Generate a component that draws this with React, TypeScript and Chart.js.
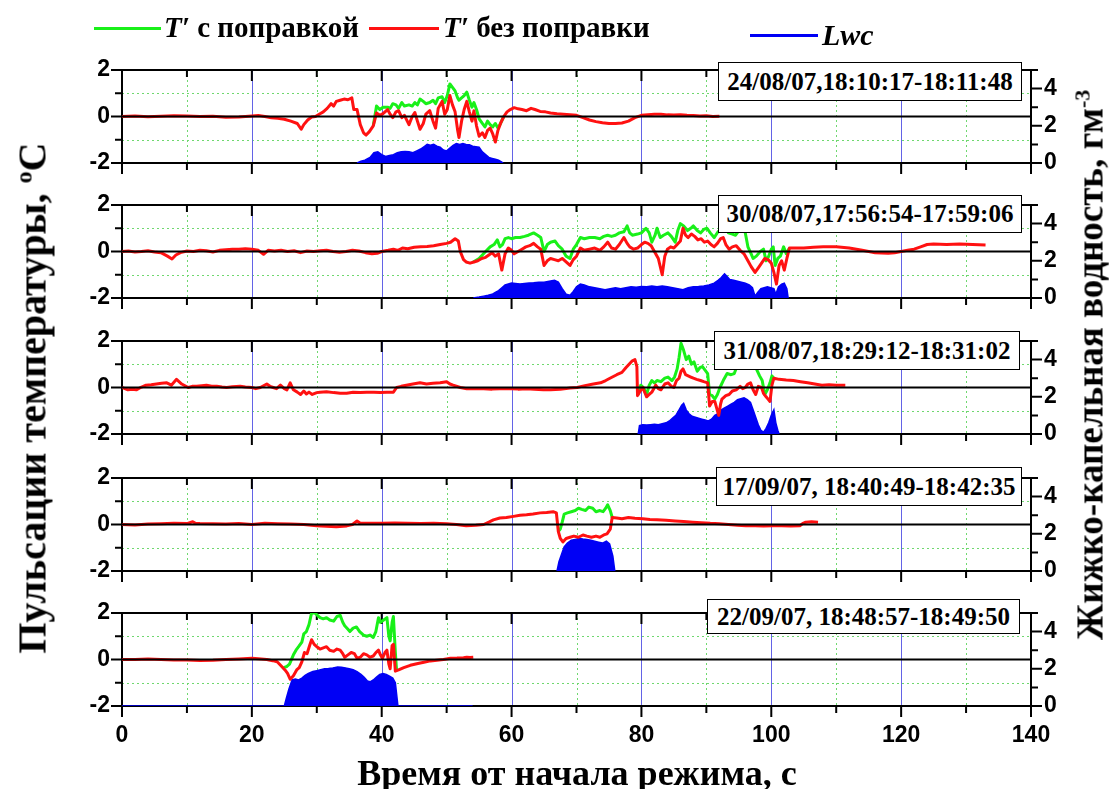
import React, { useEffect, useRef } from 'react';
import { Chart, registerables } from 'chart.js';

Chart.register(...registerables);

// ---- axis values ----
const xMajor = [0, 20, 40, 60, 80, 100, 120, 140];
const xMinor = [10, 30, 50, 70, 90, 110, 130];
const xGridBlue = [20, 40, 60, 80, 100, 120];
const yMajor = [-2, 0, 2];
const yMinor = [-1, 1];
const y2Major = [0, 2, 4];
const y2Minor = [1, 3, 5];

// ---- panel labels ----
const panelLabels = [
  '24/08/07,18:10:17-18:11:48',
  '30/08/07,17:56:54-17:59:06',
  '31/08/07,18:29:12-18:31:02',
  '17/09/07, 18:40:49-18:42:35',
  '22/09/07, 18:48:57-18:49:50',
];

// ---- data: [time s, value] ----
const p1Red = [[0,0],[2,0.02],[4,-0.01],[6,0.01],[8,0.03],[10,0.02],[12,0],[14,0.01],[16,-0.03],[18,-0.02],[20,0.02],[21,0.04],[22,0],[23,-0.05],[24,-0.08],[25,-0.12],[26,-0.2],[27,-0.3],[27.6,-0.55],[28,-0.35],[28.6,-0.15],[29.2,-0.02],[29.8,0],[30.5,0.12],[31,0.2],[31.6,0.35],[32.2,0.55],[32.6,0.45],[33,0.65],[33.6,0.7],[34.2,0.75],[34.8,0.72],[35.4,0.8],[35.7,0.3],[36.2,0.3],[36.7,-0.35],[37.2,-0.7],[37.6,-0.8],[38.1,-0.65],[38.7,-0.4],[39.2,0.15],[39.7,0.05],[40.2,0.12],[40.9,0.3],[41.3,0.1],[41.7,-0.05],[42.2,0.2],[42.6,0.25],[43.1,-0.05],[43.5,0.05],[44.2,-0.35],[44.7,0],[45.1,0.17],[45.5,-0.2],[45.9,-0.55],[46.4,-0.3],[46.8,0.1],[47.4,0.25],[47.9,-0.2],[48.3,-0.5],[48.7,0.35],[49.3,0.65],[49.7,0.1],[50.1,0.3],[50.5,0.9],[50.9,0.5],[51.3,0.2],[51.7,-0.6],[51.9,-0.9],[52.3,-0.2],[52.7,0.3],[53.1,0.65],[53.5,0.2],[53.9,-0.2],[54.2,0.25],[54.6,-0.4],[55,-0.85],[55.5,-0.7],[55.9,-0.9],[56.3,-0.6],[56.7,-0.5],[57.1,-0.75],[57.5,-1.1],[57.9,-0.6],[58.3,-0.3],[58.8,0],[59.3,0.2],[59.8,0.3],[60.4,0.38],[61,0.33],[61.6,0.3],[62.3,0.25],[63,0.35],[63.6,0.3],[64.4,0.22],[65.2,0.2],[66,0.15],[67,0.12],[68,0.1],[69,0.08],[70,0.05],[71,-0.05],[72,-0.15],[73,-0.22],[74,-0.27],[75,-0.3],[76,-0.3],[77,-0.28],[78,-0.2],[79,-0.05],[80,0.05],[81,0.08],[82,0.1],[83,0.1],[84,0.07],[85,0.06],[86,0.08],[87,0.05],[88,0.04],[89,0.02],[90,0.03],[91,0],[92,0.01]];
const p1Green = [[38.7,-0.4],[39.2,0.45],[39.7,0.3],[40.2,0.4],[40.9,0.4],[41.3,0.35],[41.7,0.55],[42.2,0.5],[42.6,0.35],[43.1,0.6],[43.5,0.45],[44.2,0.5],[44.7,0.45],[45.1,0.6],[45.5,0.5],[45.9,0.75],[46.4,0.65],[46.8,0.55],[47.4,0.6],[47.9,0.7],[48.3,0.55],[48.7,0.8],[49.3,0.85],[49.7,0.6],[50.1,0.9],[50.5,1.4],[50.9,1.25],[51.3,1.1],[51.7,0.8],[51.9,0.7],[52.3,0.8],[52.7,0.9],[53.1,1.05],[53.5,0.7],[53.9,0.4],[54.2,0.6],[54.6,0.3],[55,-0.1],[55.5,-0.3],[55.9,-0.45],[56.3,-0.2],[56.7,-0.35],[57.1,-0.45],[57.5,-0.3],[57.9,-0.5],[58.3,-0.3],[58.8,0]];
const p1Lwc = [[36.2,0],[36.8,0.1],[37.4,0.15],[38.2,0.3],[38.8,0.55],[39.4,0.6],[40,0.45],[40.6,0.35],[41.2,0.4],[41.8,0.45],[42.4,0.55],[43,0.6],[43.6,0.62],[44.2,0.6],[44.8,0.55],[45.4,0.65],[46,0.75],[46.6,0.9],[47,1],[47.5,0.95],[48,1],[48.5,0.9],[49,0.85],[49.5,0.7],[50,0.65],[50.5,0.8],[51,0.95],[51.5,1.05],[52,1],[52.5,1.05],[53,1],[53.5,0.98],[54,0.9],[54.5,0.88],[55,0.85],[55.5,0.6],[56,0.45],[56.5,0.3],[57,0.25],[57.5,0.2],[58,0.15],[58.5,0.05],[58.7,0]];

const p2Red = [[0,0],[1,0.02],[2,-0.02],[3,0],[4,0.03],[5,-0.02],[6,-0.05],[7,-0.2],[7.7,-0.32],[8.3,-0.15],[9,-0.05],[10,0.02],[11,0],[12,0.05],[13,0.03],[14,-0.02],[15,0.05],[16,0.08],[17,0.1],[18,0.1],[19,0.12],[20,0.1],[21,0.05],[21.8,-0.12],[22.5,0.05],[23.5,0.02],[24.5,0.05],[25.5,0],[26.5,0.03],[27.5,-0.05],[28.5,0.02],[29.5,0],[30.5,0.03],[31.5,0.05],[32.5,0],[33.5,-0.03],[34.5,0],[35.5,0.05],[36.5,0.02],[37.5,-0.05],[38.5,-0.1],[39.3,-0.08],[40,0],[41,0.05],[41.8,0.1],[42.5,0.05],[43.2,0.15],[44,0.12],[45,0.18],[46,0.2],[47,0.22],[48,0.25],[49,0.3],[50,0.35],[50.6,0.4],[51.3,0.55],[51.8,0.45],[52.1,0],[52.6,-0.35],[53,-0.45],[53.6,-0.5],[54.2,-0.45],[54.8,-0.4],[55.4,-0.3],[56,-0.25],[56.5,-0.15],[57,-0.05],[57.5,-0.2],[58,-0.1],[58.5,-0.8],[59,-0.1],[59.5,0.15],[60,0.05],[60.4,-0.1],[61,0],[61.6,0.1],[62.2,0.2],[62.8,0.25],[63.4,0.35],[64,0.2],[64.5,0.1],[65,-0.6],[65.5,-0.4],[66,-0.3],[66.6,-0.35],[67.2,-0.4],[67.8,-0.3],[68.4,-0.45],[69,-0.6],[69.5,-0.35],[70,-0.2],[70.6,0.15],[71.2,0.05],[72,0.1],[72.8,0.15],[73.6,0.05],[74.2,0.2],[74.8,0.4],[75.4,0.15],[76,0.1],[76.6,0.3],[77.3,0.6],[77.8,0.35],[78.2,0.2],[78.8,0.1],[79.4,0.15],[80,0.3],[80.5,0.4],[81,0.35],[81.5,0.25],[82,0],[82.6,-0.3],[83.2,-1],[83.6,-0.2],[84,0.1],[84.5,0.2],[85,0.15],[85.5,0.3],[86,0.45],[86.4,1],[86.8,0.7],[87.2,0.6],[87.7,0.75],[88.2,0.65],[88.7,0.5],[89.2,0.55],[89.7,0.4],[90.2,0.45],[90.7,0.3],[91.2,0.2],[91.7,0.35],[92.2,0.55],[92.6,0.6],[93,0.3],[93.5,0.1],[94,0.2],[94.6,0.25],[95.2,0.05],[95.8,-0.1],[96.4,-0.4],[96.9,-0.65],[97.5,-0.9],[98,-0.7],[98.5,-0.5],[99,-0.3],[99.5,-0.35],[100,-0.5],[100.4,-0.9],[100.8,-1.4],[101.2,-0.6],[101.6,-0.4],[102,-0.8],[102.4,-0.3],[102.8,0.15],[103.5,0.15],[105,0.15],[106.5,0.18],[108,0.2],[110,0.2],[112,0.15],[114,0.05],[116,-0.05],[118,-0.08],[119,-0.05],[120,0],[121,0.05],[122,0.1],[123,0.2],[124,0.3],[125,0.32],[127,0.3],[129,0.32],[131,0.3],[133,0.28]];
const p2Green = [[54.1,-0.45],[55,-0.3],[56,0],[56.7,0.2],[57.3,0.3],[57.8,0.5],[58.2,0.2],[58.6,0.3],[59,0.55],[59.5,0.6],[60,0.55],[60.6,0.6],[61.3,0.6],[62,0.65],[62.6,0.7],[63.4,0.8],[64,0.7],[64.5,0.6],[65,0],[65.5,0.3],[66,0.4],[66.7,0.45],[67.2,0.25],[67.8,0.1],[68.4,-0.2],[69,-0.3],[69.5,0.1],[70,0.3],[70.6,0.6],[71.2,0.55],[72,0.6],[72.8,0.6],[73.6,0.55],[74.2,0.65],[74.8,0.7],[75.4,0.65],[76,0.7],[76.6,0.8],[77.3,0.85],[77.8,1.1],[78.2,0.8],[78.6,0.7],[79.4,0.75],[80,0.8],[80.7,1],[81.2,0.8],[81.6,0.4],[82.1,0.7],[82.4,1],[82.9,0.6],[83.4,0.7],[84.1,0.8],[84.6,0.65],[85.2,0.4],[85.6,0.9],[86,1.2],[86.5,1.1],[87.1,0.9],[87.6,1],[88,1.1],[88.6,0.9],[89.1,0.8],[89.6,0.95],[90.1,1],[90.6,0.8],[91.2,0.6],[91.8,0.85],[92.3,0.9],[92.8,1.2],[93.4,0.8],[94,0.75],[94.5,0.7],[95,0.9],[95.5,1.2],[96,0.8],[96.4,0.2],[96.9,-0.1],[97.2,-0.3],[97.7,-0.2],[98.3,0],[98.8,0.1],[99.2,-0.4],[99.6,-0.2],[100,0.1],[100.3,0.2],[100.6,-0.6],[101,-0.3],[101.4,-0.2],[101.9,0.2],[102.3,-0.1],[102.8,0.15]];
const p2Lwc = [[54.1,0],[55,0.05],[55.7,0.1],[56.4,0.15],[57,0.2],[57.5,0.3],[58,0.4],[58.5,0.55],[59,0.7],[59.5,0.75],[60,0.8],[60.6,0.78],[61.3,0.75],[62,0.78],[62.7,0.8],[63.4,0.82],[64.2,0.85],[65,0.85],[65.8,0.9],[66.6,0.95],[67.2,0.85],[67.8,0.5],[68.4,0.2],[69,0.15],[69.5,0.35],[70,0.6],[70.6,0.75],[71.2,0.7],[72,0.6],[72.8,0.55],[73.6,0.5],[74.4,0.45],[75.2,0.5],[76,0.55],[76.8,0.5],[77.6,0.55],[78.4,0.6],[79.2,0.58],[80,0.62],[80.8,0.6],[81.6,0.65],[82.4,0.6],[83.2,0.65],[84,0.6],[84.8,0.55],[85.6,0.5],[86.4,0.45],[87.2,0.55],[88,0.6],[88.8,0.62],[89.6,0.65],[90.4,0.7],[91.2,0.8],[91.8,0.95],[92.3,1.1],[92.8,1.3],[93.2,1.15],[93.6,1],[94.2,0.95],[94.8,0.9],[95.4,0.85],[96,0.8],[96.6,0.7],[97.1,0.55],[97.5,0.1],[97.9,0.3],[98.4,0.5],[98.9,0.55],[99.4,0.6],[99.9,0.55],[100.4,0.5],[100.7,0.2],[101.1,0.6],[101.6,0.75],[102,0.8],[102.4,0.5],[102.6,0]];

const p3Red = [[0,0],[0.9,-0.1],[1.6,-0.08],[2.2,-0.1],[3,0.02],[3.7,0.1],[4.5,0.12],[5.3,0.15],[6.1,0.18],[6.9,0.2],[7.6,0.1],[8.4,0.35],[9.2,0.15],[10.2,0],[10.8,0.05],[11.5,0.05],[12.3,0.08],[13,0.1],[13.8,0.05],[14.6,0.05],[15.4,0.02],[16.1,0],[17,0.03],[18.2,0.05],[19,0.02],[20,0],[20.6,-0.05],[21.3,0],[22.3,0.15],[22.8,0.05],[23.3,0],[23.8,-0.05],[24.4,0.1],[25,-0.05],[25.4,-0.1],[25.9,0.2],[26.4,-0.1],[27,-0.2],[27.5,-0.3],[28,-0.15],[28.4,-0.28],[28.8,-0.2],[29.3,-0.3],[30,-0.22],[30.5,-0.2],[31.5,-0.18],[32.6,-0.22],[33.6,-0.25],[34.6,-0.25],[35.6,-0.2],[36.7,-0.22],[37.7,-0.2],[38.8,-0.2],[39.8,-0.22],[40.8,-0.2],[41.8,-0.2],[42.3,0],[43,0.05],[43.8,0.1],[44.8,0.15],[45.9,0.2],[46.9,0.15],[47.9,0.18],[49,0.2],[50,0.25],[50.5,0.15],[51,0.1],[52.1,0],[53.1,-0.05],[54.5,-0.05],[55.7,-0.05],[57,-0.07],[58.2,-0.05],[60,-0.05],[61,-0.07],[62.3,-0.05],[63.5,-0.08],[64.9,-0.1],[66,-0.1],[67.5,-0.08],[69,-0.02],[70.1,0],[71.3,0.08],[72.6,0.15],[73.7,0.2],[74.5,0.3],[75.3,0.42],[76.2,0.55],[77,0.65],[77.6,0.85],[78.1,1],[78.6,1.15],[79,1.2],[79.3,0.9],[79.4,-0.35],[79.7,-0.2],[80.2,0],[80.8,-0.4],[81.2,-0.3],[81.6,-0.2],[82.2,0.1],[82.6,-0.05],[83,-0.1],[83.6,0.15],[84.1,0.2],[84.6,0.05],[85,0],[85.4,0.3],[85.8,0.4],[86.1,0.7],[86.4,0.8],[86.8,0.55],[87.2,0.5],[87.6,0.45],[88,0.4],[88.5,0.35],[89.1,0.3],[89.6,0.25],[90.2,0.2],[90.5,-0.8],[90.9,-0.6],[91.3,-0.6],[91.6,-0.9],[91.9,-1.2],[92.2,-0.7],[92.4,-0.5],[93,-0.35],[93.5,-0.3],[94,-0.15],[94.6,-0.1],[95.2,0.05],[95.6,-0.05],[96,0],[96.4,0.15],[96.8,0.2],[97.2,-0.1],[97.6,-0.3],[98,0.05],[98.5,0],[98.8,-0.25],[99.2,-0.4],[99.5,-0.5],[99.8,-0.6],[100.1,0.1],[100.4,0.4],[101.2,0.35],[102.3,0.32],[103.4,0.3],[104.5,0.25],[105.6,0.2],[106.7,0.15],[107.8,0.1],[108.9,0.12],[110,0.1],[111.4,0.1]];
const p3Green = [[79.4,-0.35],[79.9,0.1],[80.3,0],[80.8,-0.3],[81.2,0.1],[81.6,0.3],[82,0.2],[82.4,0.3],[83,0.25],[83.6,0.4],[84.1,0.45],[84.7,0.3],[85.1,0.45],[85.5,0.8],[85.8,1.3],[86.1,1.9],[86.5,1.6],[86.9,1.2],[87.3,1.35],[87.7,1],[88.1,1.1],[88.6,0.7],[89,0.85],[89.4,0.9],[89.8,0.75],[90.2,0.6],[90.5,-0.3],[90.9,-0.35],[91.3,-0.5],[91.7,-0.3],[92.1,0],[92.6,0.3],[93.2,0.6],[93.8,0.55],[94.3,0.6],[94.7,0.9],[95.1,1.2],[95.5,1.5],[96,1.9],[96.3,1.3],[96.6,0.9],[97,1.1],[97.3,1.3],[97.7,0.8],[98.2,0.5],[98.6,0.3],[99,-0.3],[99.4,-0.1],[99.8,0.2],[100.1,0.5],[100.4,0.4]];
const p3Lwc = [[79.5,0],[79.7,0.45],[80.2,0.5],[80.8,0.48],[81.4,0.5],[82,0.52],[82.6,0.5],[83.2,0.55],[83.8,0.6],[84.3,0.7],[84.8,0.85],[85.3,1],[85.8,1.3],[86.2,1.55],[86.5,1.65],[86.9,1.3],[87.3,1.1],[87.8,0.95],[88.3,0.9],[88.8,0.85],[89.3,0.8],[89.8,0.75],[90.3,0.7],[90.8,0.8],[91.3,1],[91.8,1.1],[92.3,1.3],[92.8,1.4],[93.3,1.5],[93.8,1.6],[94.3,1.7],[94.8,1.85],[95.3,1.9],[95.8,1.95],[96.3,1.85],[96.8,1.7],[97.2,1.3],[97.6,0.9],[98,0.5],[98.4,0.2],[98.8,0.1],[99.2,0.3],[99.6,0.6],[100,1],[100.4,1.3],[100.7,0.6],[101,0.2],[101.2,0]];

const p4Red = [[0,0],[2,-0.02],[4,0.02],[6,0.03],[8,0.05],[10,0.04],[10.9,0.12],[11.3,0.05],[12,0.04],[14,0.03],[16,0.02],[18,0.04],[20,0],[22,0.05],[24,0.03],[26,0.02],[28,0],[30,-0.05],[31.5,-0.08],[33,-0.1],[34.6,-0.06],[35.5,0],[36.2,0.15],[36.7,0.05],[38,0.05],[40,0.05],[42,0.06],[44,0.05],[46,0.04],[48,0.05],[50,0.03],[51.5,0],[53,-0.05],[54.5,-0.03],[55.7,0],[56.5,0.1],[57.2,0.2],[58.2,0.28],[59.2,0.3],[60.3,0.35],[61.3,0.4],[62.3,0.42],[63.3,0.45],[64.4,0.5],[65.4,0.52],[66.4,0.55],[66.9,0.5],[67.2,-0.3],[67.5,-0.6],[67.9,-0.75],[68.4,-0.6],[69,-0.55],[69.6,-0.5],[70.3,-0.55],[71,-0.45],[71.6,-0.5],[72.3,-0.55],[73,-0.5],[73.6,-0.55],[74.2,-0.45],[74.7,-0.4],[75.2,-0.2],[75.5,0.3],[76.2,0.28],[77,0.25],[78,0.3],[79,0.27],[80.2,0.25],[81.3,0.22],[82.4,0.2],[83.8,0.18],[85.2,0.15],[86.5,0.13],[87.9,0.1],[89.2,0.08],[90.6,0.05],[92,0.03],[93.4,0],[94.8,-0.03],[96.1,-0.05],[97.5,-0.05],[98.8,-0.06],[100.2,-0.05],[101.6,-0.05],[103,-0.06],[104.4,-0.05],[104.9,0.05],[105.3,0.1],[106.2,0.12],[107.2,0.1]];
const p4Green = [[67.2,-0.3],[67.5,-0.2],[67.8,0.1],[68.1,0.45],[68.6,0.5],[69.2,0.55],[69.8,0.6],[70.3,0.7],[70.8,0.65],[71.4,0.6],[71.9,0.75],[72.5,0.7],[73,0.55],[73.6,0.6],[74.1,0.55],[74.5,0.7],[74.8,0.85],[75.2,0.6],[75.5,0.3]];
const p4Lwc = [[67,0],[67.3,0.5],[67.7,0.9],[68.1,1.3],[68.6,1.5],[69.2,1.65],[69.8,1.7],[70.4,1.75],[71,1.72],[71.6,1.7],[72.2,1.65],[72.8,1.6],[73.4,1.55],[74,1.5],[74.6,1.6],[75.1,1.45],[75.6,0.8],[75.9,0]];

const p5Red = [[0,0],[2,0],[4,0.02],[6,0],[8,-0.02],[10,-0.02],[12,-0.04],[14,-0.03],[16,0],[18,0.02],[20,0.05],[21,0.03],[22.3,0],[23.2,-0.05],[23.9,-0.1],[24.6,-0.3],[25.1,-0.45],[25.5,-0.6],[25.9,-0.85],[26.4,-0.7],[26.9,-0.45],[27.3,-0.35],[27.7,-0.1],[28.1,0.3],[28.5,0.25],[28.9,0.6],[29.2,0.85],[29.6,0.65],[30,0.55],[30.5,0.45],[31,0.5],[31.5,0.55],[32,0.4],[32.6,0.35],[33.1,0.45],[33.6,0.4],[34,0.25],[34.3,0.1],[34.8,0.2],[35.3,0.3],[35.8,0.25],[36.2,0.05],[36.7,0.1],[37.2,0.25],[37.7,0.2],[38.2,0.1],[38.7,0.15],[39.1,0.3],[39.5,0.4],[39.8,0.2],[40.1,0.05],[40.5,0.3],[40.8,0.4],[41.1,-0.2],[41.3,-0.4],[41.6,0.6],[41.8,0.65],[42.1,-0.5],[42.6,-0.45],[43.4,-0.35],[44.4,-0.25],[45.4,-0.18],[46.5,-0.12],[47.5,-0.06],[48.5,-0.03],[49.5,0],[50.6,0.05],[51.6,0.06],[52.6,0.08],[53.1,0.1],[53.6,0.09],[54.1,0.1]];
const p5Green = [[24.9,-0.35],[25.4,-0.3],[25.8,-0.2],[26.4,0.2],[26.8,0.4],[27.2,0.55],[27.7,0.75],[28,1.1],[28.4,1.2],[28.8,1.5],[29.2,2],[29.7,2],[30.1,1.9],[30.5,1.8],[31,1.75],[31.5,1.8],[32,1.7],[32.6,1.65],[33.1,1.85],[33.6,1.9],[34,1.6],[34.3,1.45],[34.8,1.3],[35.1,1.2],[35.6,1.35],[36.1,1.4],[36.6,1.2],[37.2,1.05],[37.7,1],[38.2,1.05],[38.7,0.95],[39.1,1.2],[39.5,1.8],[39.8,1.6],[40.3,1.7],[40.8,1.8],[41.1,1],[41.3,0.8],[41.6,1.6],[41.8,1.85],[42.1,0.3],[42.3,-0.5]];
const p5Lwc = [[0,0],[25,0],[25.3,0.4],[25.7,0.9],[26.2,1.4],[26.7,1.45],[27.2,1.4],[27.7,1.5],[28.2,1.65],[28.7,1.75],[29.4,1.85],[30,1.9],[30.6,1.95],[31.2,2],[31.8,2.02],[32.5,2.05],[33.2,2.1],[33.8,2.08],[34.4,2.05],[35,2],[35.6,1.95],[36.2,1.85],[36.8,1.7],[37.3,1.55],[37.8,1.35],[38.2,1.3],[38.7,1.4],[39.2,1.55],[39.7,1.7],[40.2,1.75],[40.7,1.7],[41.2,1.6],[41.7,1.5],[42.1,1.25],[42.5,0],[54,0]];

const panelData = [
  { red: p1Red, green: p1Green, lwc: p1Lwc },
  { red: p2Red, green: p2Green, lwc: p2Lwc },
  { red: p3Red, green: p3Green, lwc: p3Lwc },
  { red: p4Red, green: p4Green, lwc: p4Lwc },
  { red: p5Red, green: p5Green, lwc: p5Lwc },
];

// ---- layout / styles ----
const W = 1109;
const PLOT_LEFT = 122;
const PLOT_RIGHT = 1031;
const PLOT_H = 93;
const PAD_TOP = 32;
const panelTops = [70, 205, 341, 478, 613];
const boxes = [
  { left: 718, top: 62, width: 304, height: 39 },
  { left: 718, top: 195, width: 304, height: 38 },
  { left: 714, top: 331, width: 306, height: 39 },
  { left: 716, top: 467, width: 306, height: 39 },
  { left: 707, top: 599, width: 313, height: 35 },
];
const RED = '#ff1111';
const GREEN = '#19f019';
const BLUE = '#0000f5';
const GRID_BLUE = '#6363e6';
const GRID_GREEN = '#6fd86f';
const SERIF = '"Liberation Serif", "Times New Roman", serif';
const SANS = '"Liberation Sans", Arial, sans-serif';
const tickFont = { family: SANS, weight: 'bold' as const, size: 23 };

const toPts = (arr: number[][]) => arr.map(([x, y]) => ({ x, y }));

const decoPlugin = {
  id: 'deco',
  beforeDatasetsDraw(chart: any) {
    const { ctx, chartArea: a, scales } = chart;
    const x = scales.x, y = scales.y, y2 = scales.y2;
    ctx.save();
    ctx.lineWidth = 1;
    ctx.strokeStyle = GRID_GREEN;
    ctx.setLineDash([2, 3]);
    ctx.beginPath();
    for (const v of xMinor) {
      const px = Math.round(x.getPixelForValue(v)) + 0.5;
      ctx.moveTo(px, a.top); ctx.lineTo(px, a.bottom);
    }
    for (const v of yMinor) {
      const py = Math.round(y.getPixelForValue(v)) + 0.5;
      ctx.moveTo(a.left, py); ctx.lineTo(a.right, py);
    }
    ctx.stroke();
    ctx.setLineDash([]);
    ctx.strokeStyle = GRID_BLUE;
    ctx.beginPath();
    for (const v of xGridBlue) {
      const px = Math.round(x.getPixelForValue(v)) + 0.5;
      ctx.moveTo(px, a.top); ctx.lineTo(px, a.bottom);
    }
    ctx.stroke();
    // frame
    ctx.strokeStyle = '#000';
    ctx.lineWidth = 2;
    ctx.strokeRect(a.left, a.top, a.right - a.left, a.bottom - a.top);
    // ticks
    ctx.beginPath();
    const major = 11, minor = 7;
    for (const v of xMajor) {
      const px = x.getPixelForValue(v);
      ctx.moveTo(px, a.bottom); ctx.lineTo(px, a.bottom + major);
      ctx.moveTo(px, a.top); ctx.lineTo(px, a.top + major);
    }
    for (const v of xMinor) {
      const px = x.getPixelForValue(v);
      ctx.moveTo(px, a.bottom); ctx.lineTo(px, a.bottom + minor);
      ctx.moveTo(px, a.top); ctx.lineTo(px, a.top + minor);
    }
    for (const v of yMajor) {
      const py = y.getPixelForValue(v);
      ctx.moveTo(a.left - major, py); ctx.lineTo(a.left, py);
    }
    for (const v of yMinor) {
      const py = y.getPixelForValue(v);
      ctx.moveTo(a.left - minor, py); ctx.lineTo(a.left, py);
    }
    for (const v of y2Major) {
      const py = y2.getPixelForValue(v);
      ctx.moveTo(a.right, py); ctx.lineTo(a.right + major, py);
    }
    for (const v of y2Minor) {
      const py = y2.getPixelForValue(v);
      ctx.moveTo(a.right, py); ctx.lineTo(a.right + minor, py);
    }
    ctx.stroke();
    ctx.restore();
  },
  afterDatasetsDraw(chart: any) {
    const { ctx, chartArea: a, scales } = chart;
    const py = scales.y.getPixelForValue(0);
    ctx.save();
    ctx.strokeStyle = '#000';
    ctx.lineWidth = 2;
    ctx.beginPath();
    ctx.moveTo(a.left, py); ctx.lineTo(a.right, py);
    ctx.stroke();
    ctx.restore();
  },
};

function Panel({ idx }: { idx: number }) {
  const ref = useRef<HTMLCanvasElement>(null);
  const isLast = idx === panelData.length - 1;
  const bottomH = isLast ? 52 : 32;
  const height = PAD_TOP + PLOT_H + bottomH;
  useEffect(() => {
    const d = panelData[idx];
    const chart = new Chart(ref.current as HTMLCanvasElement, {
      type: 'line',
      data: {
        datasets: [
          { label: "T' без поправки", data: toPts(d.red), borderColor: RED, backgroundColor: RED, borderWidth: 3, pointRadius: 0, tension: 0, yAxisID: 'y', order: 0, borderJoinStyle: 'round' },
          { label: "T' с поправкой", data: toPts(d.green), borderColor: GREEN, backgroundColor: GREEN, borderWidth: 3, pointRadius: 0, tension: 0, yAxisID: 'y', order: 1, borderJoinStyle: 'round' },
          { label: 'Lwc', data: toPts(d.lwc), borderColor: BLUE, backgroundColor: BLUE, borderWidth: 1.5, pointRadius: 0, tension: 0, yAxisID: 'y2', order: 2, fill: 'origin' },
        ],
      } as any,
      options: {
        animation: false,
        responsive: false,
        events: [],
        layout: { padding: { top: PAD_TOP, left: 0, right: 0, bottom: 0 } },
        plugins: { legend: { display: false }, tooltip: { enabled: false } },
        scales: {
          x: {
            type: 'linear', min: 0, max: 140,
            grid: { display: false, drawTicks: false },
            border: { display: false },
            afterBuildTicks: (s: any) => { s.ticks = xMajor.map((v) => ({ value: v })); },
            afterFit: (s: any) => { s.height = bottomH; },
            ticks: { display: isLast, font: tickFont, color: '#000', padding: 16, autoSkip: false, maxRotation: 0 },
          },
          y: {
            position: 'left', min: -2, max: 2,
            grid: { display: false, drawTicks: false },
            border: { display: false },
            afterBuildTicks: (s: any) => { s.ticks = yMajor.map((v) => ({ value: v })); },
            afterFit: (s: any) => { s.width = PLOT_LEFT; },
            ticks: { font: tickFont, color: '#000', padding: 12 },
          },
          y2: {
            position: 'right', min: 0, max: 5,
            grid: { display: false, drawTicks: false },
            border: { display: false },
            afterBuildTicks: (s: any) => { s.ticks = y2Major.map((v) => ({ value: v })); },
            afterFit: (s: any) => { s.width = W - PLOT_RIGHT; },
            ticks: { font: tickFont, color: '#000', padding: 13 },
          },
        },
      } as any,
      plugins: [decoPlugin],
    });
    return () => chart.destroy();
  }, [idx]);
  return (
    <canvas
      ref={ref}
      width={W}
      height={height}
      style={{ position: 'absolute', left: 0, top: panelTops[idx] - PAD_TOP, width: W, height }}
    />
  );
}

export default function App() {
  const serifBold: React.CSSProperties = { fontFamily: SERIF, fontWeight: 'bold', color: '#000', whiteSpace: 'nowrap', position: 'absolute' };
  return (
    <div style={{ position: 'absolute', left: 0, top: 0, width: W, height: 789, background: '#fff', overflow: 'hidden' }}>
      {panelData.map((_, i) => <Panel key={i} idx={i} />)}
      {boxes.map((b, i) => (
        <div key={'b' + i} style={{
          position: 'absolute', left: b.left, top: b.top, width: b.width, height: b.height,
          boxSizing: 'border-box', border: '1.5px solid #000', background: '#fff',
          display: 'flex', alignItems: 'center', justifyContent: 'center',
          fontFamily: SERIF, fontWeight: 'bold', fontSize: 25, whiteSpace: 'nowrap',
        }}>{panelLabels[i]}</div>
      ))}
      {/* legend */}
      <div style={{ position: 'absolute', left: 94, top: 27, width: 67, height: 3, background: GREEN }} />
      <div style={{ ...serifBold, left: 164, top: 11, fontSize: 29, lineHeight: '32px' }}><i>T′</i> с поправкой</div>
      <div style={{ position: 'absolute', left: 369, top: 27, width: 70, height: 3, background: RED }} />
      <div style={{ ...serifBold, left: 443, top: 11, fontSize: 29, lineHeight: '32px' }}><i>T′</i> без поправки</div>
      <div style={{ position: 'absolute', left: 750, top: 34, width: 68, height: 3, background: BLUE }} />
      <div style={{ ...serifBold, left: 822, top: 19, fontSize: 30, lineHeight: '32px' }}><i>Lwc</i></div>
      {/* axis titles */}
      <div style={{ ...serifBold, left: 32, top: 398, fontSize: 40, transform: 'translate(-50%, -50%) rotate(-90deg)' }}>
        Пульсации температуры, <sup style={{ fontSize: 24 }}>o</sup>C
      </div>
      <div style={{ ...serifBold, left: 1090, top: 365, fontSize: 37, transform: 'translate(-50%, -50%) rotate(-90deg)' }}>
        Жижко-капельная водность, гм<sup style={{ fontSize: 22 }}>-3</sup>
      </div>
      <div style={{ ...serifBold, left: 577, top: 773, fontSize: 36, transform: 'translate(-50%, -50%)' }}>
        Время от начала режима, с
      </div>
    </div>
  );
}
